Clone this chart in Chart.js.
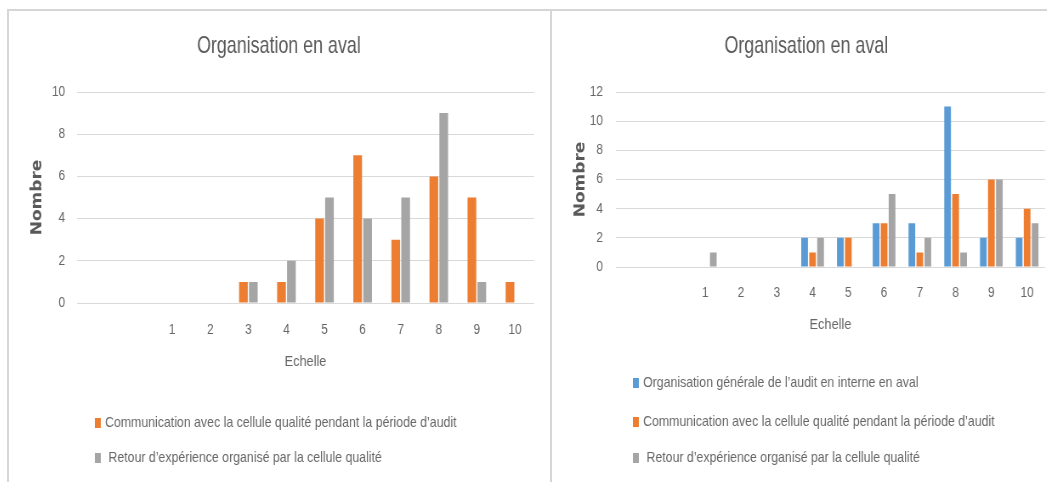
<!DOCTYPE html>
<html>
<head>
<meta charset="utf-8">
<title>Organisation en aval</title>
<script src="https://cdn.jsdelivr.net/npm/chart.js@4.4.1/dist/chart.umd.min.js"></script>
<style>
  html, body { margin: 0; padding: 0; background: #ffffff; overflow: hidden; width: 1047px; height: 482px; }
  #page { position: relative; width: 1047px; height: 482px; overflow: hidden; }
  .rule { position: absolute; background: #d6d6d6; }
  #ruleTop { left: 7px; top: 9px; width: 1040px; height: 2px; }
  #ruleLeft { left: 7px; top: 9px; width: 2px; height: 473px; }
  #ruleMid { left: 550px; top: 9px; width: 2px; height: 473px; }
  .panel { position: absolute; top: 11px; height: 471px; transform-origin: 0 0; transform: scaleX(0.85); }
  #panelL { left: 9px; width: 635px; }
  #panelR { left: 553px; width: 596px; }
  canvas { display: block; filter: blur(0.45px); }
</style>
</head>
<body>
<div id="page">
  <div class="rule" id="ruleTop"></div>
  <div class="rule" id="ruleLeft"></div>
  <div class="rule" id="ruleMid"></div>
  <div class="panel" id="panelL"><canvas id="chartL" width="635" height="471"></canvas></div>
  <div class="panel" id="panelR"><canvas id="chartR" width="596" height="471"></canvas></div>
</div>
<script>
// Scale positions on the x axis (two empty leading slots, then 1..10)
const categories = ['', '', '1', '2', '3', '4', '5', '6', '7', '8', '9', '10'];

// Left chart series
const communicationLeft = [null, null, 0, 0, 1, 1, 4, 7, 3, 6, 5, 1];
const retourLeft        = [null, null, 0, 0, 1, 2, 5, 4, 5, 9, 1, 0];

// Right chart series
const organisationRight  = [null, null, 0, 0, 0, 2, 2, 3, 3, 11, 2, 2];
const communicationRight = [null, null, 0, 0, 0, 1, 2, 3, 1, 5, 6, 4];
const retourRight        = [null, null, 1, 0, 0, 2, 0, 5, 2, 1, 6, 3];

// Series names
const labelOrganisation  = 'Organisation générale de l’audit en interne en aval';
const labelCommunication = 'Communication avec la cellule qualité pendant la période d’audit';
const labelRetour        = ' Retour d’expérience organisé par la cellule qualité';

const titleText = 'Organisation en aval';
const xTitle = 'Echelle';
const yTitle = 'Nombre';

const BLUE = '#5B9BD5';
const ORANGE = '#ED7D31';
const GREY = '#A5A5A5';
const TEXT = '#666666';
const TITLE = '#595959';
const GRID = '#d9d9d9';
const FONT = "'Liberation Sans', Arial, sans-serif";

// Narrow, tall chart title centred over the canvas
const narrowTitle = {
  id: 'narrowTitle',
  afterDraw(chart, args, opts) {
    const ctx = chart.ctx;
    ctx.save();
    ctx.translate(chart.width / 2, opts.y);
    ctx.scale(opts.squeeze, 1);
    ctx.font = opts.font;
    ctx.fillStyle = opts.color;
    ctx.textAlign = 'center';
    ctx.textBaseline = 'middle';
    ctx.fillText(opts.text, 0, 0);
    ctx.restore();
  }
};

// Vertical legend drawn under the plot, one row per dataset
const stackedLegend = {
  id: 'stackedLegend',
  afterDraw(chart, args, opts) {
    const ctx = chart.ctx;
    ctx.save();
    ctx.font = opts.font;
    ctx.textBaseline = 'middle';
    ctx.textAlign = 'left';
    chart.data.datasets.forEach((ds, i) => {
      const y = opts.rows[i];
      ctx.fillStyle = ds.backgroundColor;
      ctx.fillRect(opts.boxX, y - 5, 7, 10);
      ctx.fillStyle = opts.color;
      ctx.fillText(ds.label, opts.textX, y);
    });
    ctx.restore();
  }
};

function buildChart(id, datasets, cfg) {
  return new Chart(document.getElementById(id), {
    type: 'bar',
    data: { labels: categories, datasets: datasets },
    options: {
      responsive: false,
      animation: false,
      devicePixelRatio: 1,
      layout: { padding: { left: 0, right: cfg.padRight, top: 81, bottom: cfg.padBottom } },
      datasets: {
        bar: { categoryPercentage: cfg.catPct, barPercentage: cfg.barPct, borderWidth: 0 }
      },
      plugins: {
        legend: { display: false },
        tooltip: { enabled: false },
        title: { display: false },
        narrowTitle: {
          text: titleText,
          y: 35,
          squeeze: 0.875,
          font: '24px ' + FONT,
          color: TITLE
        },
        stackedLegend: {
          rows: cfg.legendRows,
          boxX: cfg.legendBoxX,
          textX: cfg.legendTextX,
          font: '14.5px ' + FONT,
          color: TEXT
        }
      },
      scales: {
        x: {
          grid: { display: false, drawTicks: false },
          border: { display: false },
          ticks: {
            color: TEXT,
            font: { family: FONT, size: 14 },
            padding: cfg.xTickPad,
            autoSkip: false,
            maxRotation: 0
          },
          title: {
            display: true,
            text: xTitle,
            color: TEXT,
            font: { family: FONT, size: 15 },
            padding: { top: 0, bottom: cfg.xTitlePad }
          },
          afterFit(scale) { scale.height = cfg.xHeight; }
        },
        y: {
          min: 0,
          max: cfg.yMax,
          grid: { color: GRID, lineWidth: 1, drawTicks: false },
          border: { display: false },
          ticks: {
            stepSize: 2,
            color: TEXT,
            font: { family: FONT, size: 14 },
            padding: cfg.yTickPad
          },
          title: {
            display: true,
            text: yTitle,
            color: TITLE,
            font: { family: "'DejaVu Sans', sans-serif", size: 17, weight: 'bold' },
            padding: { top: cfg.yTitlePad, bottom: 0 }
          },
          afterFit(scale) { scale.width = cfg.yWidth; }
        }
      }
    },
    plugins: [narrowTitle, stackedLegend]
  });
}

buildChart('chartL', [
  { label: labelCommunication, data: communicationLeft, backgroundColor: ORANGE },
  { label: labelRetour, data: retourLeft, backgroundColor: GREY }
], {
  yMax: 10, padRight: 17.4, padBottom: 107, xHeight: 72, yWidth: 80,
  xTickPad: 18.6, xTitlePad: 4, yTickPad: 14, yTitlePad: 23.3,
  catPct: 0.52, barPct: 0.88,
  legendRows: [412, 447], legendBoxX: 101, legendTextX: 113
});

buildChart('chartR', [
  { label: labelOrganisation, data: organisationRight, backgroundColor: BLUE },
  { label: labelCommunication, data: communicationRight, backgroundColor: ORANGE },
  { label: labelRetour, data: retourRight, backgroundColor: GREY }
], {
  yMax: 12, padRight: 17.2, padBottom: 145, xHeight: 70, yWidth: 74,
  xTickPad: 17.6, xTitlePad: 3, yTickPad: 15.3, yTitlePad: 22.8,
  catPct: 0.67, barPct: 0.84,
  legendRows: [372, 411, 447], legendBoxX: 94, legendTextX: 106
});
</script>
</body>
</html>
